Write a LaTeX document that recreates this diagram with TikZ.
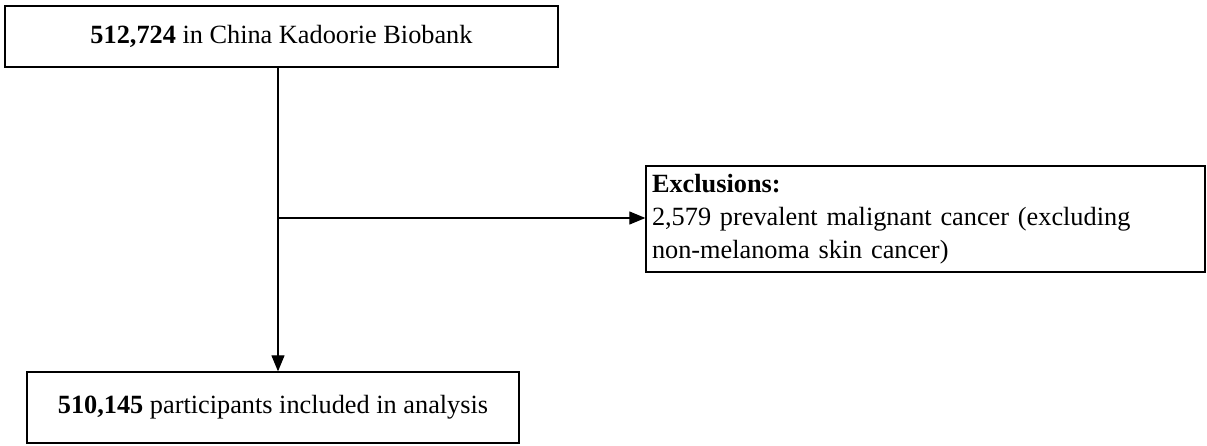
\documentclass[tikz,border=0pt]{standalone}
\usepackage{fontspec}
\setmainfont{Liberation Serif}
\usetikzlibrary{arrows.meta}
\begin{document}
\begin{tikzpicture}[x=1pt,y=-1pt,
  box/.style={draw=black, line width=1.3pt, inner sep=0pt, font=\fontsize{26.3}{33}\selectfont},
  conn/.style={draw=black, line width=1.2pt},
  arr/.style={conn, -{Triangle[length=16pt,width=13pt]}}]
\useasboundingbox (0,0) rectangle (1207,446);
\node[box, minimum width=553pt, minimum height=61pt] (top) at (281.5,36.5) {\textbf{512,724} in China Kadoorie Biobank};
\node[box, minimum width=492pt, minimum height=71pt] (bottom) at (273,407.5) {\textbf{510,145} participants included in analysis};
\node[box, minimum width=559pt, minimum height=106pt, text width=547pt, align=left] (excl) at (925.5,219) {\textbf{Exclusions:}\\2,579 prevalent malignant cancer (excluding\\non-melanoma skin cancer)};
\coordinate (branch) at (278,218);
\draw[arr] (top.south -| branch) -- (bottom.north -| branch);
\draw[arr] (branch) -- (branch -| excl.west);
\end{tikzpicture}
\end{document}
